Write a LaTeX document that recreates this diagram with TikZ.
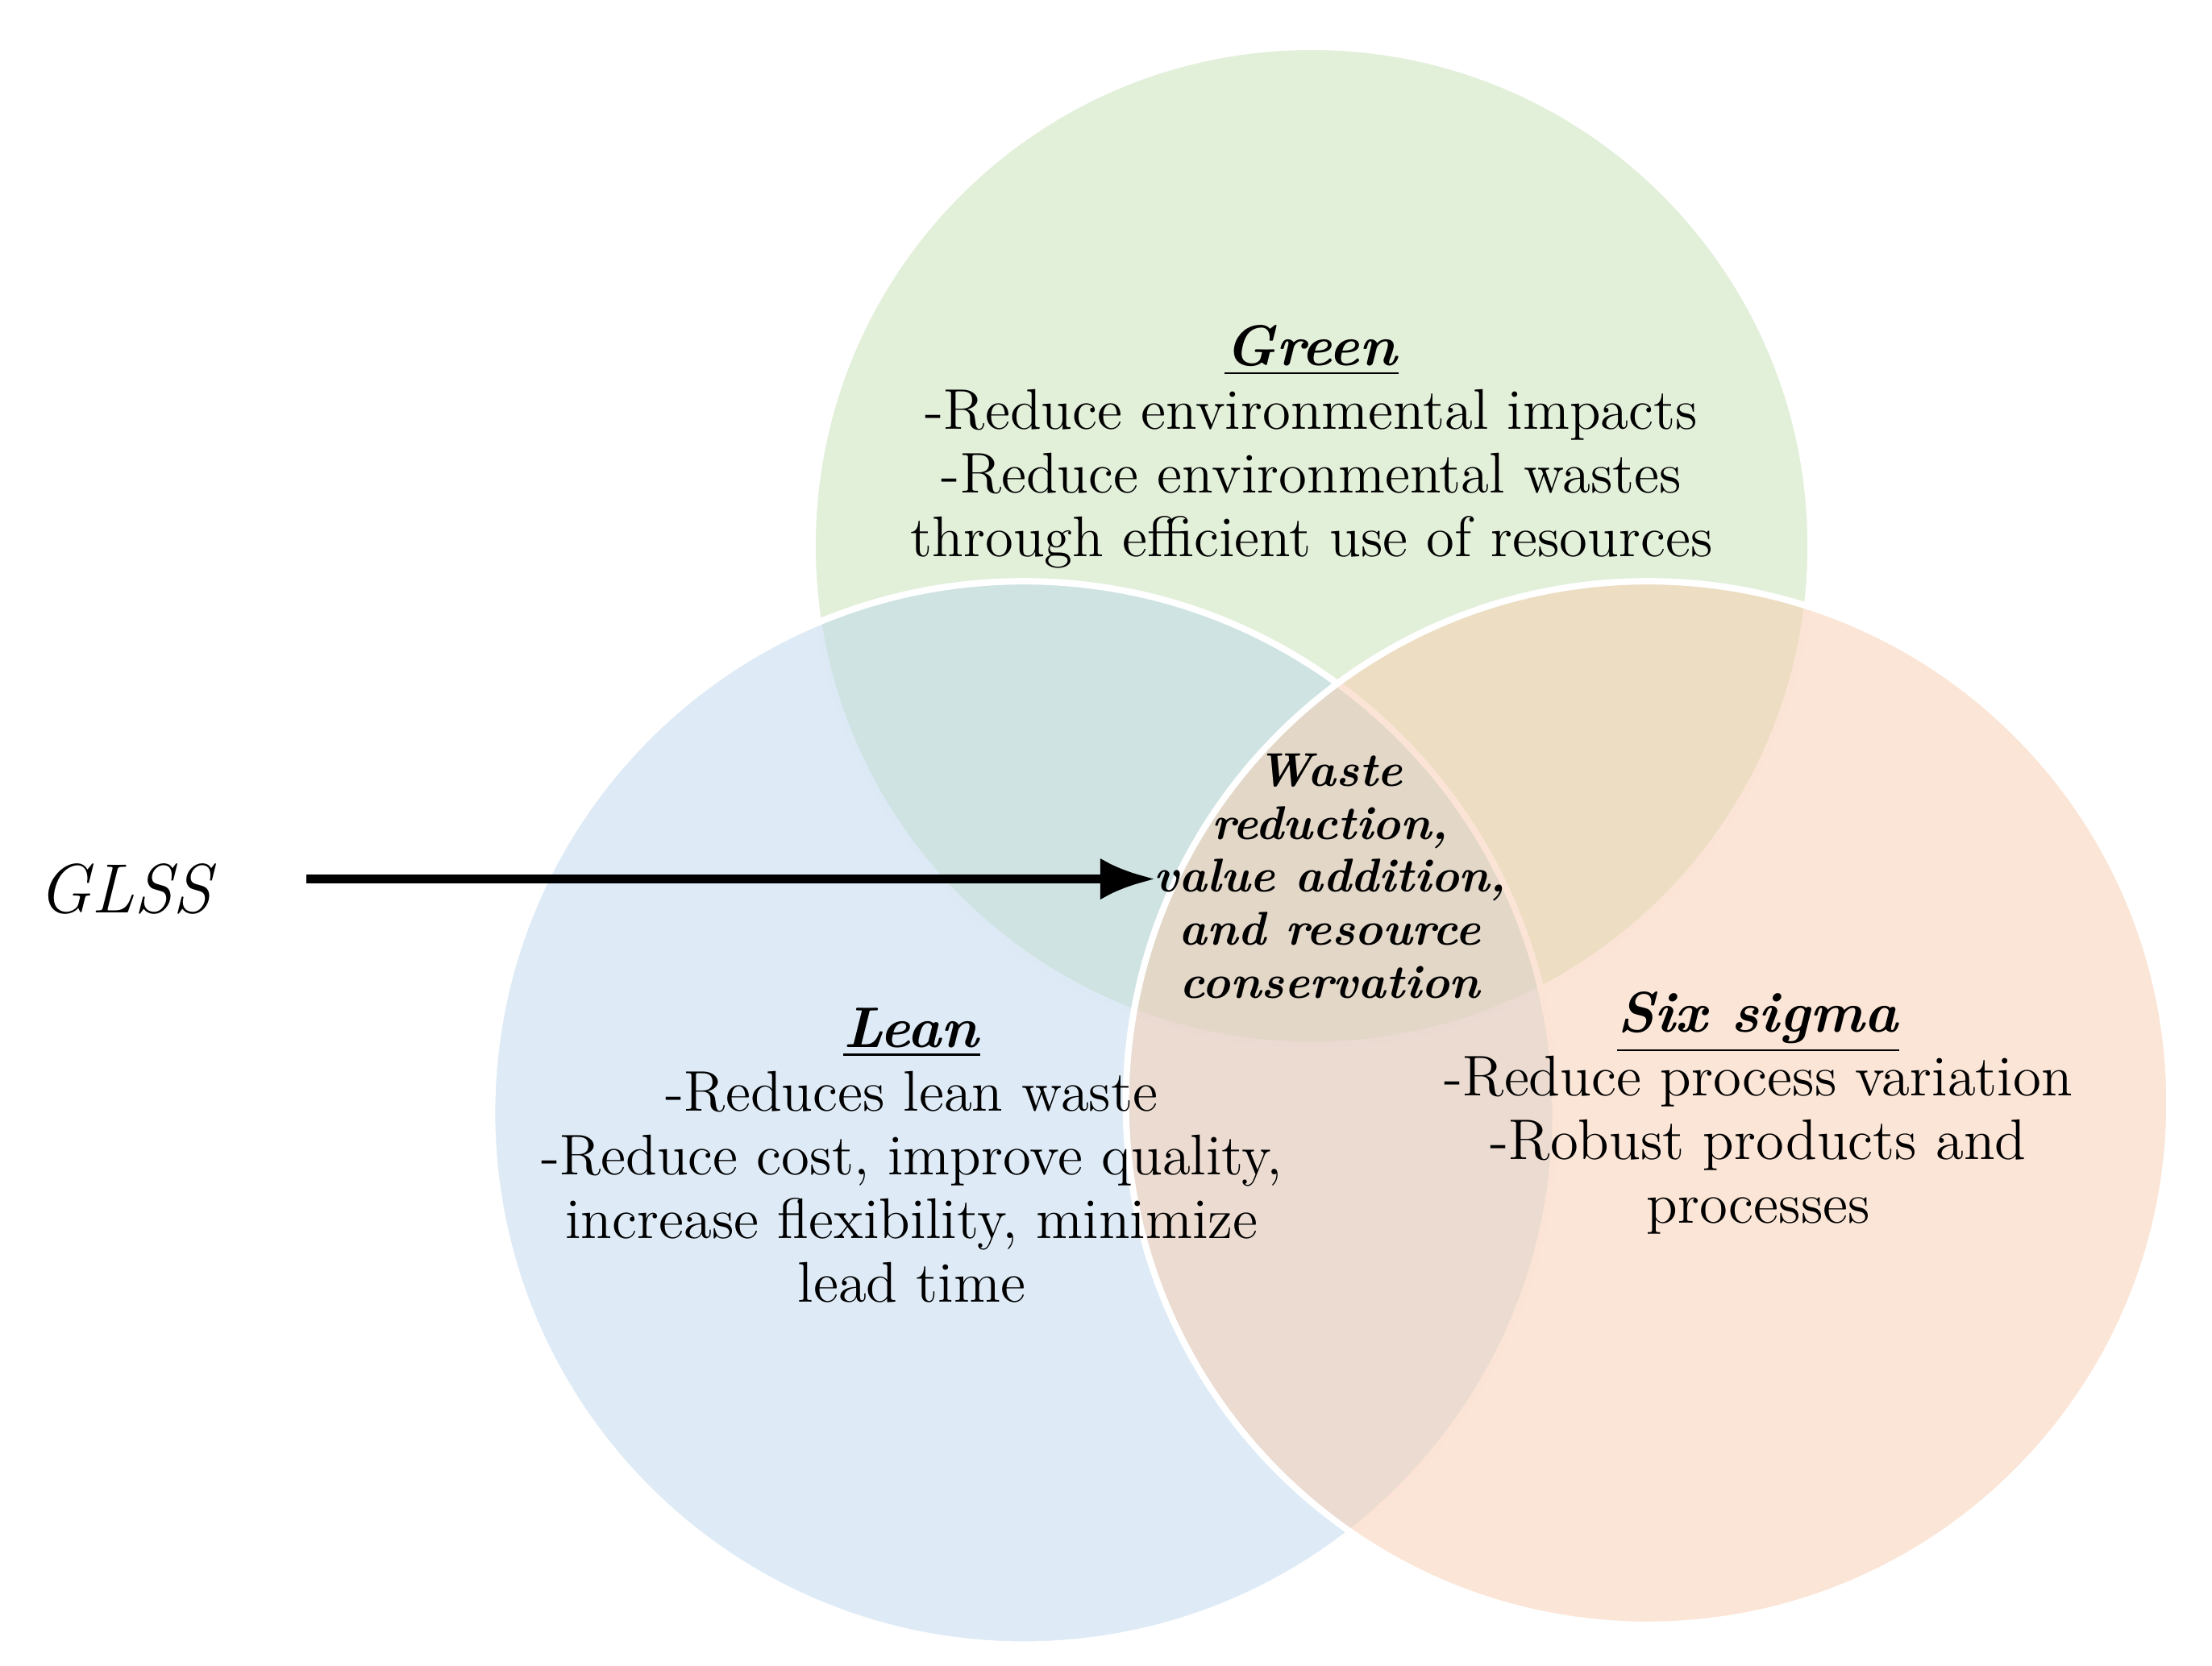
\documentclass[tikz,border=0pt]{standalone}
\usepackage{tikz}
\usetikzlibrary{arrows.meta}
\begin{document}
\begin{tikzpicture}[x=0.1mm, y=-0.1mm, >={Latex},
  venn/.style={circle, draw=white, line width=1.3pt, fill opacity=0.5, inner sep=0pt},
  label/.style={align=center, font=\fontsize{11.5}{12.8}\selectfont},
  core/.style={align=center, font=\fontsize{9.5}{10.6}\selectfont\bfseries\itshape}]
\useasboundingbox (0,0) rectangle (1560,1175);
\node[venn, fill={rgb,255:red,197;green,224;blue,180}, minimum size=704*0.1mm] (G) at (925,385) {};
\node[venn, fill={rgb,255:red,189;green,215;blue,238}, minimum size=750*0.1mm] (L) at (722,785) {};
\node[venn, fill={rgb,255:red,248;green,203;blue,173}, minimum size=736*0.1mm] (S) at (1162,778) {};
\node[label] (gt) at (925,315) {\underline{\textbf{\textit{Green}}}\\-Reduce environmental impacts\\-Reduce environmental wastes\\through efficient use of resources};
\node[label] (lt) at (643,815) {\underline{\textbf{\textit{Lean}}}\\-Reduces lean waste\\-Reduce cost, improve quality,\\increase flexibility, minimize\\lead time};
\node[label] (st) at (1240,785) {\underline{\textbf{\textit{Six sigma}}}\\-Reduce process variation\\-Robust products and\\processes};
\node[core] (ct) at (938,618) {Waste\\reduction,\\value addition,\\and resource\\conservation};
\node[font=\fontsize{14}{16}\selectfont\itshape] (glss) at (88,627) {GLSS};
\coordinate (tip) at (815,620);
\draw[->, line width=1.8pt] (glss.east) ++(55,-7) -- (tip);
\end{tikzpicture}
\end{document}
